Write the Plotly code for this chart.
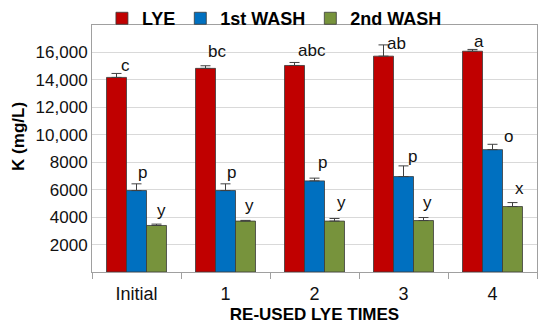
import plotly.graph_objects as go

# ---------------- data ----------------
categories = ["Initial", "1", "2", "3", "4"]
series_names = ["LYE", "1st WASH", "2nd WASH"]

lye = [14180, 14840, 15050, 15730, 16090]
wash1 = [5935, 5935, 6640, 6953, 8917]
wash2 = [3390, 3710, 3710, 3750, 4770]

lye_err = [290, 190, 220, 820, 130]
wash1_err = [490, 490, 200, 780, 390]
wash2_err = [100, 50, 190, 220, 290]

lye_letters = ["c", "bc", "abc", "ab", "a"]
wash1_letters = ["p", "p", "p", "p", "o"]
wash2_letters = ["y", "y", "y", "y", "x"]

y_tickvals = [2000, 4000, 6000, 8000, 10000, 12000, 14000, 16000]
y_ticktext = ["2000", "4000", "6000", "8000", "10,000", "12,000", "14,000", "16,000"]

# ---------------- style ----------------
colors = ["#c00000", "#0070c0", "#77933c"]
FONT = "Liberation Sans, Arial, sans-serif"
bar_offsets_px = [-20, 0, 20]
# label placement offsets (pixels) relative to each error-bar top
label_dx = [[8.5, 11, 17, 12.5, 6.5],
            [6, 6, 7.5, 8.5, 15.5],
            [4.5, 3.5, 6.5, 3.5, 6.5]]
label_dy = [[-4, 2.4, 0.6, -10.3, -4],
            [-0.3, -0.3, 4, -2.3, -3.4],
            [2.6, 3.2, 4.4, 3.4, 2.7]]

values = [lye, wash1, wash2]
errors = [lye_err, wash1_err, wash2_err]
letters = [lye_letters, wash1_letters, wash2_letters]

fig = go.Figure()
for name, vals, errs, col in zip(series_names, values, errors, colors):
    fig.add_trace(go.Bar(
        name=name, x=categories, y=vals,
        marker=dict(color=col, line=dict(color="#3a3a3a", width=0.8)),
        error_y=dict(type="data", symmetric=False, array=errs,
                     arrayminus=[0] * len(errs),
                     color="#404040", thickness=1, width=5),
    ))

annotations = []
for s in range(3):
    for i, cat in enumerate(categories):
        annotations.append(dict(
            x=cat, y=values[s][i] + errors[s][i], xref="x", yref="y",
            text=letters[s][i], showarrow=False,
            xanchor="center", yanchor="bottom",
            xshift=bar_offsets_px[s] + label_dx[s][i], yshift=label_dy[s][i],
            font=dict(family=FONT, size=17, color="#111111"),
        ))

annotations.append(dict(
    x=-73 / 445.0, xref="paper", xanchor="center",
    y=0.547, yref="paper", yanchor="middle",
    text="<b>K (mg/L)</b>", textangle=-90, showarrow=False,
    font=dict(family=FONT, size=17, color="#000000"),
))

# page body has an 8px margin, so the figure is sized to fit inside the window
fig.update_layout(
    width=534, height=317,
    margin=dict(l=84, r=5, t=17, b=53, autoexpand=False),
    paper_bgcolor="white", plot_bgcolor="white",
    barmode="group", bargap=0.326, bargroupgap=0,
    font=dict(family=FONT, color="#000000"),
    showlegend=True,
    legend=dict(orientation="h", x=0.41, xanchor="center",
                y=1.026, yanchor="middle",
                font=dict(family=FONT, size=18, color="#000000", weight="bold"),
                bgcolor="rgba(0,0,0,0)", itemwidth=30, tracegroupgap=0),
    xaxis=dict(
        type="category", tickson="boundaries", ticks="outside", ticklen=6,
        tickcolor="#a0a0a0", showline=True, linecolor="#a0a0a0", linewidth=1,
        mirror=True, showgrid=False, automargin=False, ticklabelstandoff=5,
        tickfont=dict(family=FONT, size=18, color="#111111"),
        title=dict(text="<b>RE-USED LYE TIMES</b>", standoff=5,
                   font=dict(family=FONT, size=17, color="#000000")),
    ),
    yaxis=dict(
        range=[0, 18000], tickvals=y_tickvals, ticktext=y_ticktext,
        showgrid=True, gridcolor="#d9d9d9", gridwidth=1,
        showline=True, linecolor="#a0a0a0", linewidth=1, mirror=True,
        ticks="", zeroline=False, automargin=False,
        tickfont=dict(family=FONT, size=17, color="#111111"),
    ),
    annotations=annotations,
)

fig.write_html("out.html")
